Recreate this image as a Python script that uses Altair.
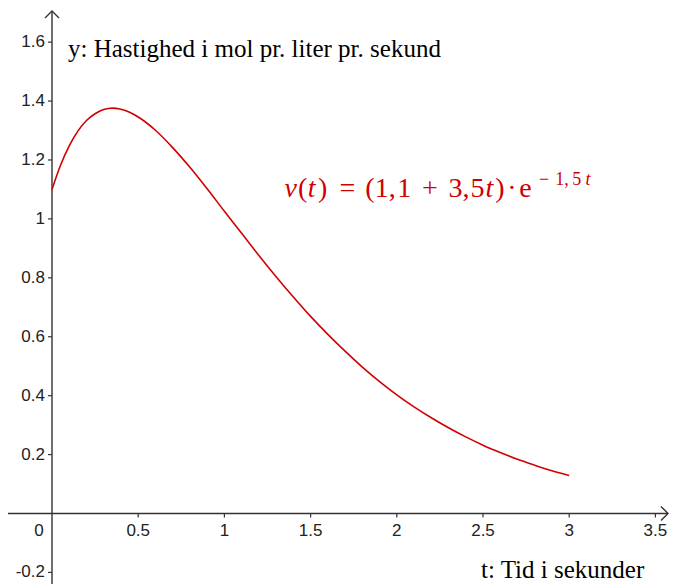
import altair as alt
import pandas as pd

# ---- data ----
t_vals = [0, 0.05, 0.1, 0.15, 0.2, 0.25, 0.3, 0.35, 0.4, 0.45, 0.5, 0.6, 0.7, 0.8, 0.9, 1.0,
          1.1, 1.2, 1.3, 1.4, 1.5, 1.6, 1.7, 1.8, 1.9, 2.0, 2.1, 2.2, 2.3, 2.4, 2.5,
          2.6, 2.7, 2.8, 2.9, 3.0]
v_vals = [1.100, 1.183, 1.248, 1.298, 1.334, 1.357, 1.371, 1.376, 1.372, 1.362, 1.346,
          1.301, 1.242, 1.175, 1.102, 1.026, 0.951, 0.876, 0.804, 0.735, 0.669, 0.608,
          0.551, 0.497, 0.448, 0.403, 0.362, 0.325, 0.291, 0.260, 0.232, 0.207, 0.184,
          0.164, 0.145, 0.129]

x_ticks = [0.5, 1.0, 1.5, 2.0, 2.5, 3.0, 3.5]
x_labels = ["0.5", "1", "1.5", "2", "2.5", "3", "3.5"]
y_ticks = [-0.2, 0.2, 0.4, 0.6, 0.8, 1.0, 1.2, 1.4, 1.6]
y_labels = ["-0.2", "0.2", "0.4", "0.6", "0.8", "1", "1.2", "1.4", "1.6"]

y_title = "y: Hastighed i mol pr. liter pr. sekund"
x_title = "t: Tid i sekunder"

# formula pieces: v(t) = (1,1 + 3,5t) · e^(−1,5t)
f_text = ["v", "(", "t", ")", "=", "(1,", "1", "+", "3,", "5", "t", ")", "·", "e",
          "−", "1,", "5", "t"]
f_ital = [True, False, True, False, False, False, False, False, False, False, True, False,
          False, False, False, False, False, True]
f_sup = [False] * 14 + [True] * 4

# ---- layout (pixel geometry of the reference) ----
W, H = 661, 576
X0PX, Y0PX = 52 - 8, 513.5 - 8     # origin inside the plot area
SX, SY = 172.4, 294.6              # pixels per unit
xdom = [-X0PX / SX, (W - X0PX) / SX]
ydom = [-(H - Y0PX) / SY, Y0PX / SY]


def px_x(p):
    return (p - 8 - X0PX) / SX


def px_y(p):
    return (Y0PX - (p - 8)) / SY


# piece centres (page pixels) for the formula
f_xpx = [290.8, 302.7, 311.7, 322.7, 347.5, 380.5, 404.2, 430.0, 459.0, 477.5, 489.5, 500.0,
         512.0, 525.5, 544.2, 562.0, 576.7, 588.0]

xs = alt.Scale(domain=xdom, nice=False, zero=False)
ys = alt.Scale(domain=ydom, nice=False, zero=False)


def X(f):
    return alt.X(f, type="quantitative", scale=xs, axis=None)


def Y(f):
    return alt.Y(f, type="quantitative", scale=ys, axis=None)


AX = "#333333"
RED = "#d00000"
x_tip = px_x(668)
y_tip = px_y(11)

axes_df = pd.DataFrame({
    "x": [xdom[0], 0.0], "x2": [x_tip, 0.0],
    "y": [0.0, ydom[0]], "y2": [0.0, y_tip],
})
axes = alt.Chart(axes_df).mark_rule(color=AX, strokeWidth=1.4).encode(
    x=X("x"), x2="x2", y=Y("y"), y2="y2")

xt_df = pd.DataFrame({"x": x_ticks, "lab": x_labels})
xt_df["y"] = 0.0
xt_df["y2"] = -4 / SY
xtick = alt.Chart(xt_df).mark_rule(color=AX, strokeWidth=1.2).encode(
    x=X("x"), y=Y("y"), y2="y2")
xlab = alt.Chart(xt_df).mark_text(font="Liberation Sans", fontSize=17, color="#222222",
                                  align="center", baseline="middle", dy=17).encode(
    x=X("x"), y=Y("y"), text="lab")

yt_df = pd.DataFrame({"y": y_ticks, "lab": y_labels})
yt_df["x"] = -4 / SX
yt_df["x2"] = 0.0
ytick = alt.Chart(yt_df).mark_rule(color=AX, strokeWidth=1.2).encode(
    x=X("x"), x2="x2", y=Y("y"))
ylab = alt.Chart(yt_df).mark_text(font="Liberation Sans", fontSize=17, color="#222222",
                                  align="right", baseline="middle", dx=-3).encode(
    x=X("x"), y=Y("y"), text="lab")

zero_df = pd.DataFrame({"x": [0.0], "y": [0.0], "lab": ["0"]})
zlab = alt.Chart(zero_df).mark_text(font="Liberation Sans", fontSize=17, color="#222222",
                                    align="center", baseline="middle", dx=-13, dy=17).encode(
    x=X("x"), y=Y("y"), text="lab")

arr_df = pd.DataFrame({"x": [x_tip, 0.0], "y": [0.0, y_tip], "k": ["x", "y"]})
arr_x = alt.Chart(arr_df[arr_df.k == "x"]).mark_point(
    shape="M-1,-1L0,0L-1,1", size=196, filled=False, color=AX, strokeWidth=1.4, opacity=1).encode(
    x=X("x"), y=Y("y"))
arr_y = alt.Chart(arr_df[arr_df.k == "y"]).mark_point(
    shape="M-1,1L0,0L1,1", size=196, filled=False, color=AX, strokeWidth=1.4, opacity=1).encode(
    x=X("x"), y=Y("y"))

curve_df = pd.DataFrame({"t": t_vals, "v": v_vals})
curve = alt.Chart(curve_df).mark_line(color=RED, strokeWidth=1.6, interpolate="monotone").encode(
    x=X("t"), y=Y("v"))

titles_df = pd.DataFrame({
    "x": [px_x(68), px_x(481)], "y": [px_y(49), px_y(570)], "lab": [y_title, x_title]})
titles = alt.Chart(titles_df).mark_text(font="Liberation Serif", fontSize=25, color="#000000",
                                        align="left", baseline="middle").encode(
    x=X("x"), y=Y("y"), text="lab")

f_df = pd.DataFrame({"lab": f_text, "ital": f_ital, "sup": f_sup,
                     "x": [px_x(p) for p in f_xpx]})
f_df["y"] = [px_y(185) if s else px_y(197) for s in f_sup]


def fl(ital, sup):
    d = f_df[(f_df.ital == ital) & (f_df.sup == sup)]
    return alt.Chart(d).mark_text(font="Liberation Serif", fontSize=18 if sup else 28,
                                  fontStyle="italic" if ital else "normal", color=RED,
                                  align="center", baseline="alphabetic").encode(
        x=X("x"), y=Y("y"), text="lab")


formula = fl(False, False) + fl(True, False) + fl(False, True) + fl(True, True)

chart = alt.layer(axes, xtick, ytick, xlab, ylab, zlab, arr_x, arr_y, curve, titles, formula).properties(
    width=W, height=H, autosize=alt.AutoSizeParams(type="none"), padding=0
).configure_view(stroke=None)

chart.save("out.html", embed_options={"renderer": "svg", "actions": False})
